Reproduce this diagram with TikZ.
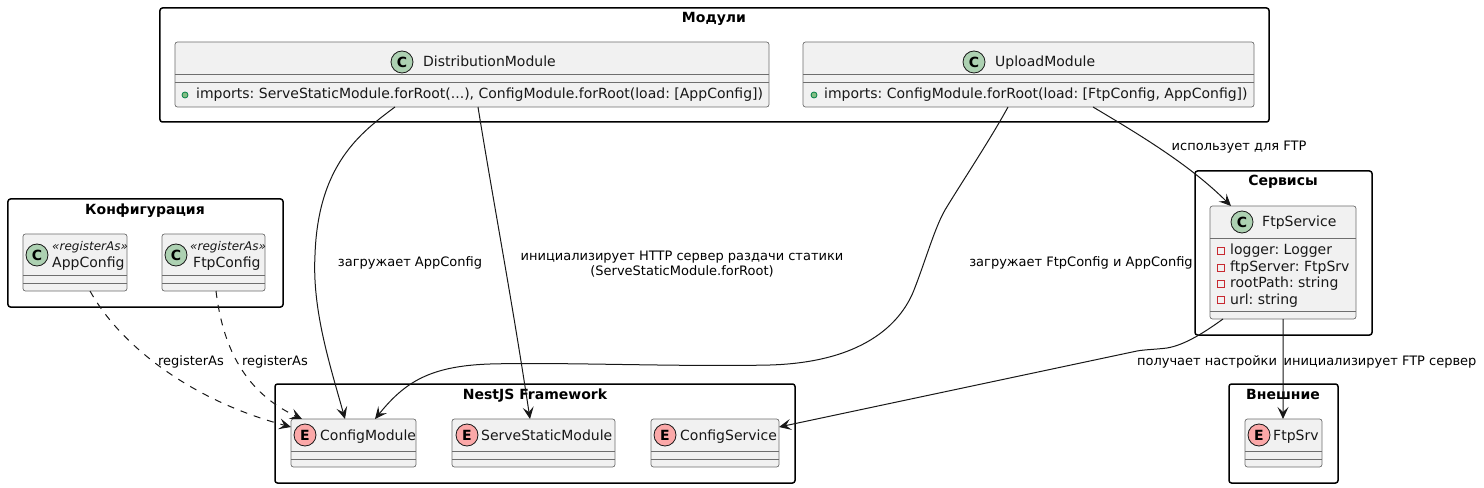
\documentclass[tikz,border=0pt]{standalone}
\usepackage{fontspec}
\setmainfont{DejaVu Sans}
\usetikzlibrary{arrows.meta,calc}
\definecolor{boxfill}{HTML}{F1F1F1}
\definecolor{boxline}{HTML}{6E6E6E}
\definecolor{ink}{HTML}{181818}
\definecolor{cgreen}{HTML}{ADD1B2}
\definecolor{epink}{HTML}{FBA8A8}
\newcommand\umlbox[6][cbox]{%
  \pgfmathsetmacro\bw{#5-#3}\pgfmathsetmacro\bh{#6-#4}%
  \pgfmathsetmacro\cx{(#3+#5)/2}\pgfmathsetmacro\cy{(#4+#6)/2}%
  \node[#1,minimum width=\bw bp,minimum height=\bh bp] (#2) at (\cx,\cy) {};}
\newcommand\hsep[3]{\draw[sepline] ($(#1.north west)+(0,#2)$) -- ($(#1.north east)+(0,#2)$);\draw[sepline] ($(#1.north west)+(0,#3)$) -- ($(#1.north east)+(0,#3)$);}
\tikzset{
  grp/.style={draw=black,line width=1.5bp,rounded corners=2.5bp,fill=white,inner sep=0,outer sep=0},
  cbox/.style={draw=boxline,line width=0.7bp,rounded corners=2.5bp,fill=boxfill,inner sep=0,outer sep=0},
  sepline/.style={draw=boxline,line width=0.7bp},
  circ/.style={circle,draw=ink,line width=0.8bp,minimum size=22bp,inner sep=0,font=\fontsize{14bp}{14bp}\selectfont\bfseries},
  ccirc/.style={circ,fill=cgreen},
  ecirc/.style={circ,fill=epink},
  gtitle/.style={anchor=base,inner sep=0,font=\fontsize{14bp}{16bp}\selectfont\bfseries},
  ctext/.style={anchor=base west,inner sep=0,text=ink,font=\fontsize{14bp}{16bp}\selectfont},
  stereo/.style={anchor=base west,inner sep=0,text=ink,font=\fontsize{12bp}{14bp}\selectfont\itshape},
  elabel/.style={anchor=base,inner sep=0,text=black,font=\fontsize{13bp}{15bp}\selectfont},
  conn/.style={draw=ink,line width=1bp,-{Stealth[length=12bp,width=11bp,inset=5bp]}},
  dconn/.style={conn,dash pattern=on 7bp off 7bp},
  plusicon/.style={circle,draw={rgb,255:red,3;green,128;blue,72},fill={rgb,255:red,132;green,190;blue,132},line width=0.8bp,minimum size=6bp,inner sep=0},
  minusicon/.style={rectangle,draw={rgb,255:red,200;green,41;blue,48},line width=0.8bp,minimum size=6.5bp,inner sep=0},
}
\begin{document}
\frenchspacing
\begin{tikzpicture}[x=1bp,y=-1bp]
\useasboundingbox (0,0) rectangle (1484,488);
\fill[white] (0,0) rectangle (1484,488);
% groups
\umlbox[grp]{gmod}{160}{8}{1269}{122}
\umlbox[grp]{gcfg}{8}{199}{283}{307}
\umlbox[grp]{gsrv}{1195}{171}{1372}{335}
\umlbox[grp]{gnest}{275}{384}{795}{483}
\umlbox[grp]{gext}{1229}{384}{1338}{483}
\node[gtitle] (tmod) at (714,22.5) {Модули};
\node[gtitle] (tcfg) at (145,215) {Конфигурация};
\node[gtitle] (tsrv) at (1283,186) {Сервисы};
\node[gtitle] (tnest) at (535,399) {NestJS Framework};
\node[gtitle] (text) at (1283,399) {Внешние};
% classes
\umlbox{dist}{175}{42}{769}{107}\hsep{dist}{32}{40}
\umlbox{upl}{803}{42}{1254}{107}\hsep{upl}{32}{40}
\umlbox{appc}{23}{234}{127}{291}\hsep{appc}{41}{49}
\umlbox{ftpc}{162}{234}{265}{291}\hsep{ftpc}{41}{49}
\umlbox{fsv}{1210}{206}{1356}{319}\hsep{fsv}{32}{105}
\umlbox{cmod}{291}{419}{416}{467}\hsep{cmod}{32}{40}
\umlbox{sst}{452}{419}{615}{467}\hsep{sst}{32}{40}
\umlbox{csv}{651}{419}{779}{467}\hsep{csv}{32}{40}
\umlbox{fsr}{1245}{419}{1322}{467}\hsep{fsr}{32}{40}
% connectors
\draw[conn] ($(dist.south west)+(220,0)$) .. controls (360,133) and (318,165) .. (315,255) .. controls (312,310) and (330,365) .. ($(cmod.north west)+(54,0)$);
\draw[conn] ($(dist.south west)+(303,0)$) .. controls (493,200) and (512,300) .. ($(sst.north west)+(78,0)$);
\draw[conn] ($(upl.south west)+(205,0)$) .. controls (990,140) and (960,185) .. (945,210) .. controls (935,227) and (925,262) .. (914,290) .. controls (903,318) and (870,362) .. (770,365) .. controls (680,367) and (560,362) .. (490,364) .. controls (430,366) and (405,382) .. ($(cmod.north west)+(84,0)$);
\draw[conn] ($(upl.south west)+(290,0)$) .. controls (1140,135) and (1190,165) .. ($(fsv.north west)+(21,0)$);
\draw[conn] ($(fsv.south west)+(13,0)$) .. controls (1205,332) and (1185,345) .. (1167,348) .. controls (1155,349.5) and (1145,349.5) .. (1137,351) -- ($(csv.north east)+(0,8)$);
\draw[conn] ($(fsv.south west)+(73,0)$) -- ($(fsr.north west)+(38,0)$);
\draw[dconn] ($(appc.south west)+(67,0)$) .. controls (120,345) and (190,400) .. ($(cmod.north west)+(0,8)$);
\draw[dconn] ($(ftpc.south west)+(54,0)$) .. controls (222,340) and (240,390) .. ($(cmod.north west)+(11,0)$);
% class heads
\node[ccirc] (cdist) at (402,62) {C};
\node[ctext] (ndist) at (423,67) {DistributionModule};
\node[plusicon] (pdist) at (185,95) {};
\node[ctext] (mdist) at (196,99) {imports: ServeStaticModule.forRoot(...), ConfigModule.forRoot(load: [AppConfig])};
\node[ccirc] (cupl) at (974,62) {C};
\node[ctext] (nupl) at (995,67) {UploadModule};
\node[plusicon] (pupl) at (814,95) {};
\node[ctext] (mupl) at (824,99) {imports: ConfigModule.forRoot(load: [FtpConfig, AppConfig])};
\node[ccirc] (capp) at (37,255) {C};
\node[stereo] (sapp) at (52,251) {«registerAs»};
\node[ctext] (napp) at (52,268) {AppConfig};
\node[ccirc] (cftp) at (176,255) {C};
\node[stereo] (sftp) at (190,251) {«registerAs»};
\node[ctext] (nftp) at (193,268) {FtpConfig};
\node[ccirc] (cfsv) at (1242,222) {C};
\node[ctext] (nfsv) at (1262,227) {FtpService};
\foreach \nm/\yy/\tx in {a/250/{logger: Logger},b/267/{ftpServer: FtpSrv},c/283/{rootPath: string},d/299/{url: string}}{
  \node[minusicon] (mi\nm) at (1221,\yy+1) {};
  \node[ctext] (mt\nm) at (1230,\yy+5) {\tx};
}
\node[ecirc] (ecm) at (305,435) {E};
\node[ctext] (ncm) at (320,440) {ConfigModule};
\node[ecirc] (ess) at (467,435) {E};
\node[ctext] (nss) at (481,440) {ServeStaticModule};
\node[ecirc] (ecs) at (665,435) {E};
\node[ctext] (ncs) at (680,440) {ConfigService};
\node[ecirc] (efs) at (1259,435) {E};
\node[ctext] (nfs) at (1273,440) {FtpSrv};
% labels
\node[elabel] (l1) at (410,267) {загружает AppConfig};
\node[elabel] (l2) at (682,261) {инициализирует HTTP сервер раздачи статики};
\node[elabel] (l2b) at (682,276) {(ServeStaticModule.forRoot)};
\node[elabel] (l3) at (1081,267) {загружает FtpConfig и AppConfig};
\node[elabel] (l4) at (1239,151) {использует для FTP};
\node[elabel] (l5) at (1207,365) {получает настройки};
\node[elabel] (l6) at (1380,365) {инициализирует FTP сервер};
\node[elabel] (l7) at (191,365) {registerAs};
\node[elabel] (l8) at (275,365) {registerAs};
\end{tikzpicture}
\end{document}
